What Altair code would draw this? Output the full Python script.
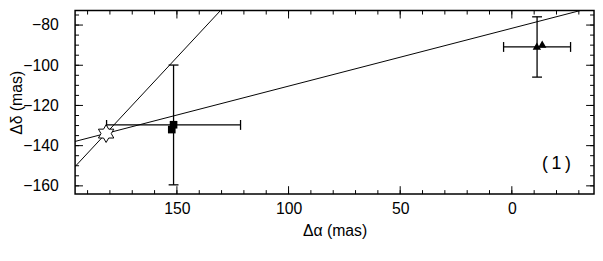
import altair as alt
import pandas as pd

# ---------------- data ----------------
line_ids = ["steep", "steep", "shallow", "shallow"]
line_ra = [195.6, 130.5, 195.6, -30.6]
line_dec = [-150.4, -72.8, -137.9, -72.8]

square_ra = [151.5, 152.3]
square_dec = [-129.6, -132.0]

triangle_ra = [-11.2, -13.6]
triangle_dec = [-90.5, -89.5]

star_ra = [181.7]
star_dec = [-134.0]

err_ra = [151.5, -11.3]
err_dec = [-129.7, -90.9]
err_ra_sigma = [30.0, 15.0]
err_dec_sigma = [29.8, 15.0]

x_major = [150, 100, 50, 0]
x_minor = [190, 180, 170, 160, 150, 140, 130, 120, 110, 100, 90, 80, 70, 60,
           50, 40, 30, 20, 10, 0, -10, -20, -30]
y_major = [-160, -140, -120, -100, -80]
y_minor = [-160, -155, -150, -145, -140, -135, -130, -125, -120, -115, -110,
           -105, -100, -95, -90, -85, -80, -75]

panel_label = ["(\u20091\u2009)"]

# ---------------- tables ----------------
df_lines = pd.DataFrame({"id": line_ids, "ra": line_ra, "dec": line_dec})
df_sq = pd.DataFrame({"ra": square_ra, "dec": square_dec})
df_tri = pd.DataFrame({"ra": triangle_ra, "dec": triangle_dec})
df_star = pd.DataFrame({"ra": star_ra, "dec": star_dec})
df_err = pd.DataFrame({"ra": err_ra, "dec": err_dec,
                       "sra": err_ra_sigma, "sdec": err_dec_sigma})
df_label = pd.DataFrame({"label": panel_label})

FONT = "Liberation Sans"
W, H = 526, 186
X = alt.Scale(domain=[-36.8, 195.6], reverse=True, nice=False, zero=False)
Y = alt.Scale(domain=[-164.1, -72.8], nice=False, zero=False)

MAJOR, MINOR = 8, 4
VSEG = "M0,-1L0,1"
HSEG = "M-1,0L1,0"

AX_X = alt.Axis(orient="bottom", values=x_major, ticks=False, domain=False,
                grid=False, labelFont=FONT, labelFontSize=16,
                labelColor="black", labelFlush=False, labelPadding=7,
                title="Δα  (mas)", titleFont=FONT, titleFontSize=16,
                titleFontWeight="normal", titleColor="black", titlePadding=6)
AX_Y = alt.Axis(orient="left", values=y_major, ticks=False, domain=False,
                grid=False, labelFont=FONT, labelFontSize=16,
                labelColor="black", labelFlush=False, labelPadding=17,
                title="Δδ  (mas)", titleFont=FONT, titleFontSize=16,
                titleFontWeight="normal", titleColor="black", titlePadding=-2)


def xe(field):
    return alt.X(field, scale=X, axis=AX_X)


def ye(field):
    return alt.Y(field, scale=Y, axis=AX_Y)


lines = alt.Chart(df_lines).mark_line(color="black", strokeWidth=1, clip=True).encode(
    x=xe("ra:Q"), y=ye("dec:Q"), detail="id:N",
)


def xticks(values, ypix, length):
    return alt.Chart(pd.DataFrame({"v": values})).mark_point(
        shape=VSEG, size=length * length, filled=False, color="black",
        strokeWidth=1, opacity=1).encode(x=xe("v:Q"), y=alt.value(ypix))


def yticks(values, xpix, length):
    return alt.Chart(pd.DataFrame({"v": values})).mark_point(
        shape=HSEG, size=length * length, filled=False, color="black",
        strokeWidth=1, opacity=1).encode(y=ye("v:Q"), x=alt.value(xpix))


ticks = [
    xticks(x_major, H - MAJOR / 2, MAJOR), xticks(x_minor, H - MINOR / 2, MINOR),
    xticks(x_major, MAJOR / 2, MAJOR), xticks(x_minor, MINOR / 2, MINOR),
    yticks(y_major, MAJOR / 2, MAJOR), yticks(y_minor, MINOR / 2, MINOR),
    yticks(y_major, W - MAJOR / 2, MAJOR), yticks(y_minor, W - MINOR / 2, MINOR),
]

hbar = alt.Chart(df_err).transform_calculate(
    x1="datum.ra - datum.sra", x2="datum.ra + datum.sra"
).mark_rule(color="black", strokeWidth=1.3).encode(
    x=xe("x1:Q"), x2="x2:Q", y=ye("dec:Q"),
)

vbar = alt.Chart(df_err).transform_calculate(
    y1="datum.dec - datum.sdec", y2="datum.dec + datum.sdec"
).mark_rule(color="black", strokeWidth=1.3).encode(
    x=xe("ra:Q"), y=ye("y1:Q"), y2="y2:Q",
)

vcaps = alt.Chart(df_err).transform_calculate(
    lo="datum.ra - datum.sra", hi="datum.ra + datum.sra"
).transform_fold(["lo", "hi"], as_=["end", "xc"]).mark_point(
    shape=VSEG, size=100, filled=False, color="black", strokeWidth=1.3,
    opacity=1,
).encode(x=xe("xc:Q"), y=ye("dec:Q"))

hcaps = alt.Chart(df_err).transform_calculate(
    lo="datum.dec - datum.sdec", hi="datum.dec + datum.sdec"
).transform_fold(["lo", "hi"], as_=["end", "yc"]).mark_point(
    shape=HSEG, size=100, filled=False, color="black", strokeWidth=1.3,
    opacity=1,
).encode(x=xe("ra:Q"), y=ye("yc:Q"))

squares = alt.Chart(df_sq).mark_point(
    shape="square", size=60, filled=True, color="black", opacity=1
).encode(x=xe("ra:Q"), y=ye("dec:Q"))

triangles = alt.Chart(df_tri).mark_point(
    shape="triangle-up", size=72, filled=True, color="black", opacity=1
).encode(x=xe("ra:Q"), y=ye("dec:Q"))

hexagram = ("M0,-1L0.289,-0.5L0.866,-0.5L0.577,0L0.866,0.5L0.289,0.5L0,1"
            "L-0.289,0.5L-0.866,0.5L-0.577,0L-0.866,-0.5L-0.289,-0.5Z")
star = alt.Chart(df_star).mark_point(
    shape=hexagram, size=324, filled=True, fill="white", stroke="black",
    strokeWidth=1, opacity=1, fillOpacity=1,
).encode(x=xe("ra:Q"), y=ye("dec:Q"))

label = alt.Chart(df_label).mark_text(
    font=FONT, fontSize=18, color="black", align="center", baseline="middle"
).encode(text="label:N", x=alt.value(488), y=alt.value(H - 30))

chart = alt.layer(
    lines, *ticks, hbar, vbar, vcaps, hcaps, squares, triangles, star, label
).properties(
    width=W, height=H,
    autosize=alt.AutoSizeParams(type="none"),
    padding={"left": 68, "top": 1, "right": 1, "bottom": 51},
).configure_view(stroke="black", strokeWidth=1.5)

chart.save("out.html", embed_options={"renderer": "svg", "actions": False})
